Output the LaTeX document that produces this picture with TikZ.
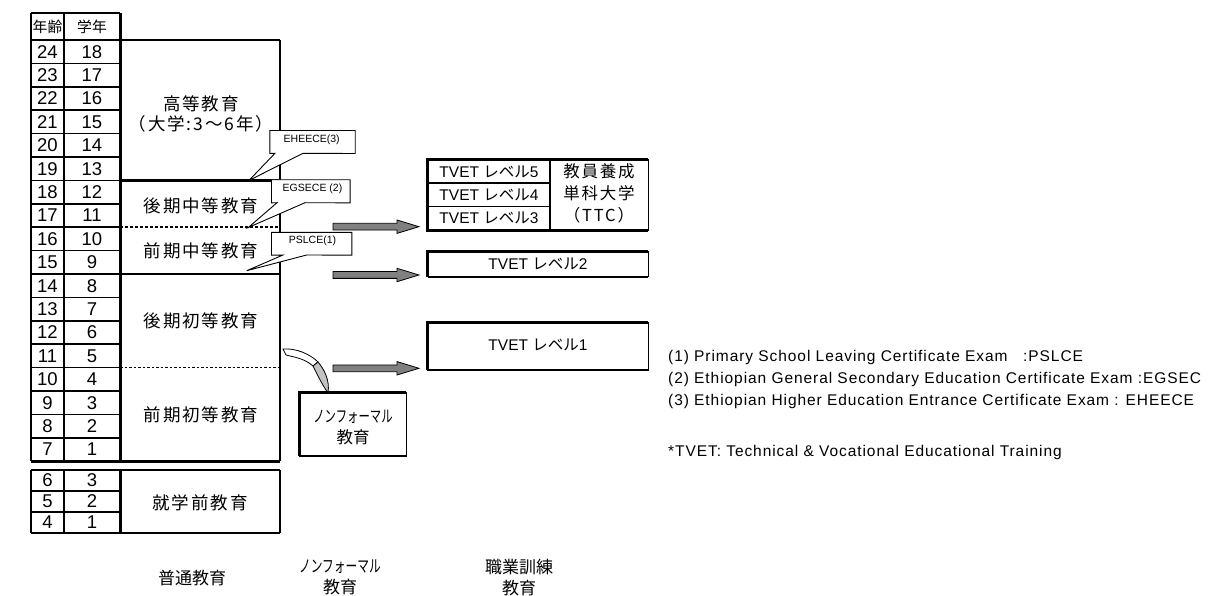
\documentclass[tikz,border=0pt]{standalone}
\usepackage{fontspec}
\setmainfont{Liberation Sans}
\newfontfamily\jp{Noto Sans CJK JP}
\newfontfamily\jpsp{Noto Sans CJK JP}[LetterSpace=11]
\newfontfamily\lgd{Liberation Sans}[LetterSpace=6]
\definecolor{agray}{RGB}{128,128,128}
\definecolor{lgray}{RGB}{195,195,195}
\begin{document}
\begin{tikzpicture}[x=1pt,y=-1pt,
  every node/.style={inner sep=0pt},
  numcell/.style={font=\fontsize{18.5}{20}\selectfont},
  hdrcell/.style={font=\jp\fontsize{14.8}{16}\selectfont},
  edulbl/.style={align=center,font=\jpsp\fontsize{17.5}{20}\selectfont},
  tvetlbl/.style={font=\fontsize{15.5}{18}\selectfont},
  calltxt/.style={font=\fontsize{10.5}{12}\selectfont},
  callshape/.style={draw,fill=white,line width=0.9pt},
  garrow/.style={draw,fill=agray,line width=0.8pt},
  lgdtxt/.style={anchor=west,font=\lgd\fontsize{15.5}{17}\selectfont},
  botlbl/.style={align=center,font=\jp\fontsize{17}{21}\selectfont},
  tline/.style={line width=1.6pt},
  thinl/.style={line width=1.2pt},
  thickl/.style={line width=3pt},
]
\useasboundingbox (0,0) rectangle (1208,596);

% ---------------- upper table ----------------
\node[hdrcell] (hage) at (47.5,26.5) {年齢};
\node[hdrcell] (hgr) at (92,26.5) {学年};
\foreach \i in {0,...,17}{
  \pgfmathsetmacro\yc{40+23.4*(\i+0.5)}
  \pgfmathtruncatemacro\ag{24-\i}
  \pgfmathtruncatemacro\gr{18-\i}
  \node[numcell] (age\ag) at (47.5,\yc) {\ag};
  \node[numcell] (grU\gr) at (92,\yc) {\gr};
}
\draw[tline] (31,13) -- (120,13);
\foreach \i in {0,...,17}{
  \draw[tline] (31,{40+23.4*\i}) -- (120,{40+23.4*\i});
}
\draw[thinl] (31,13) -- (31,461.2);
\draw[thinl] (64,13) -- (64,461.2);

% education boxes
\draw[thinl] (120,40) -- (280,40);
\draw[thinl] (280,40) -- (280,461.2);
\draw[line width=2.4pt] (120,180.4) -- (280,180.4);
\draw[line width=2.6pt,dash pattern=on 3pt off 2pt] (120,227.2) -- (280,227.2);
\draw[thinl] (120,274) -- (280,274);
\draw[line width=1.2pt,dash pattern=on 2.5pt off 2pt] (120,367.6) -- (280,367.6);
\draw[line width=2.6pt] (31,461.2) -- (280,461.2);
\draw[thickl] (120,13) -- (120,461.2);

\node[edulbl] (hig) at (201,114) {高等教育\\（大学:3〜6年）};
\node[edulbl] (usec) at (201,206) {後期中等教育};
\node[edulbl] (lsec) at (201,251) {前期中等教育};
\node[edulbl] (upri) at (201,321) {後期初等教育};
\node[edulbl] (lpri) at (201,415) {前期初等教育};

% ---------------- lower table ----------------
\foreach \i/\ag/\gr in {0/6/3,1/5/2,2/4/1}{
  \node[numcell] (ageL\ag) at (47.5,{480.5+21*\i}) {\ag};
  \node[numcell] (grL\gr) at (92,{480.5+21*\i}) {\gr};
}
\draw[tline] (31,491) -- (120,491);
\draw[tline] (31,512) -- (120,512);
\draw[line width=2.6pt] (31,470) -- (280,470);
\draw[line width=2.6pt] (31,533) -- (280,533);
\draw[thinl] (31,470) -- (31,533);
\draw[thinl] (64,470) -- (64,533);
\draw[thinl] (280,470) -- (280,533);
\draw[thickl] (120,470) -- (120,533);
\node[edulbl] (pre) at (200,503) {就学前教育};

% ---------------- callouts ----------------
\node[minimum width=85,minimum height=22.6] (cb3) at (312.5,142) {};
\coordinate (tip3) at (249,180.4);
\draw[callshape] (cb3.north west) -- (cb3.north east) -- (cb3.south east)
  -- (303,153.3) -- (tip3) -- (275,153.3) -- (cb3.south west) -- cycle;
\node[calltxt] (ct3) at (311.7,139.8) {EHEECE(3)};

\node[minimum width=78.3,minimum height=22.7] (cb2) at (310.8,191.3) {};
\coordinate (tip2) at (248.3,227.5);
\draw[callshape] (cb2.north west) -- (cb2.north east) -- (cb2.south east)
  -- (305,202.7) -- (tip2) -- (277,202.7) -- (cb2.south west) -- cycle;
\node[calltxt] (ct2) at (312.5,188.8) {EGSECE (2)};

\node[minimum width=80,minimum height=22.3] (cb1) at (311.7,243.8) {};
\coordinate (tip1) at (246.7,270.7);
\draw[callshape] (cb1.north west) -- (cb1.north east) -- (cb1.south east)
  -- (306.7,255) -- (tip1) -- (283,255) -- (cb1.south west) -- cycle;
\node[calltxt] (ct1) at (312.5,240.5) {PSLCE(1)};

% ---------------- TVET boxes ----------------
\node[minimum width=220,minimum height=70] (tvg) at (538,195) {};
\draw[thinl] (tvg.north west) rectangle (tvg.south east);
\draw[line width=2.8pt] (tvg.south east) -- (tvg.south west) -- (tvg.north west) -- (tvg.north east);
\draw[line width=2.8pt] (550,160) -- (550,230);
\draw[tline] (428,183.3) -- (550,183.3);
\draw[tline] (428,206.7) -- (550,206.7);
\node[tvetlbl] (t5) at (489,171.7) {TVET {\jp レベル}5};
\node[tvetlbl] (t4) at (489,195) {TVET {\jp レベル}4};
\node[tvetlbl] (t3) at (489,218.3) {TVET {\jp レベル}3};
\node[align=center,font=\jpsp\fontsize{16.5}{22}\selectfont] (ttc) at (599,193) {教員養成\\単科大学\\（TTC）};

\node[minimum width=220,minimum height=25] (tv2) at (538,264.2) {};
\draw[thinl] (tv2.north west) rectangle (tv2.south east);
\draw[line width=2.8pt] (tv2.south west) -- (tv2.north west) -- (tv2.north east);
\draw[line width=1.8pt] (tv2.south west) -- (tv2.south east);
\node[tvetlbl] (t2) at (538,264) {TVET {\jp レベル}2};

\node[minimum width=220,minimum height=47.3] (tv1) at (538,346.3) {};
\draw[thinl] (tv1.north west) rectangle (tv1.south east);
\draw[line width=2.8pt] (tv1.south west) -- (tv1.north west) -- (tv1.north east);
\draw[line width=1.8pt] (tv1.south west) -- (tv1.south east);
\node[tvetlbl] (t1) at (538,345) {TVET {\jp レベル}1};

% ---------------- gray arrows ----------------
\foreach \yc in {226.7,275,368.3}{
  \draw[garrow] (333,\yc-3.4) -- (397,\yc-3.4) -- (397,\yc-6.7) -- (419,\yc)
    -- (397,\yc+6.7) -- (397,\yc+3.4) -- (333,\yc+3.4) -- cycle;
}

% ---------------- non-formal box ----------------
\node[minimum width=106,minimum height=63] (nfbox) at (353,424.5) {};
\draw[thinl] (nfbox.north west) rectangle (nfbox.south east);
\draw[line width=3pt] (nfbox.south west) -- (nfbox.north west) -- (nfbox.north east);
\draw[line width=1.8pt] (nfbox.south west) -- (nfbox.south east);
\node[botlbl,font=\jp\fontsize{16.5}{21}\selectfont] (nf) at (353,427) {\scalebox{0.69}[1]{ノンフォーマル}\\教育};

% curved arrow to non-formal
\coordinate (cstart) at (283,349);
\draw[fill=white,line width=0.8pt] (cstart) .. controls (296,348) and (310,354) .. (318,362)
  -- (313,366) .. controls (304,358) and (293,357) .. (286,355) -- cycle;
\draw[fill=lgray,line width=0.8pt] (318,362) .. controls (324,369) and (330,380) .. (nfbox.north -| 328,0)
  .. controls (323,386) and (319,378) .. (316,372) -- (313,366) -- cycle;

% ---------------- legend ----------------
\node[lgdtxt] (lg1) at (668,357) {(1) Primary School Leaving Certificate Exam \ \ :PSLCE};
\node[lgdtxt] (lg2) at (668,379) {(2) Ethiopian General Secondary Education Certificate Exam :EGSEC};
\node[lgdtxt] (lg3) at (668,401) {(3) Ethiopian Higher Education Entrance Certificate Exam : EHEECE};
\node[lgdtxt] (lg4) at (668,452) {*TVET: Technical \& Vocational Educational Training};

% ---------------- bottom labels ----------------
\node[botlbl] (bgen) at (192,578) {普通教育};
\node[botlbl] (bnf) at (340,577.5) {\scalebox{0.69}[1]{ノンフォーマル}\\教育};
\node[botlbl] (bvoc) at (519,577.5) {職業訓練\\教育};
\end{tikzpicture}
\end{document}
